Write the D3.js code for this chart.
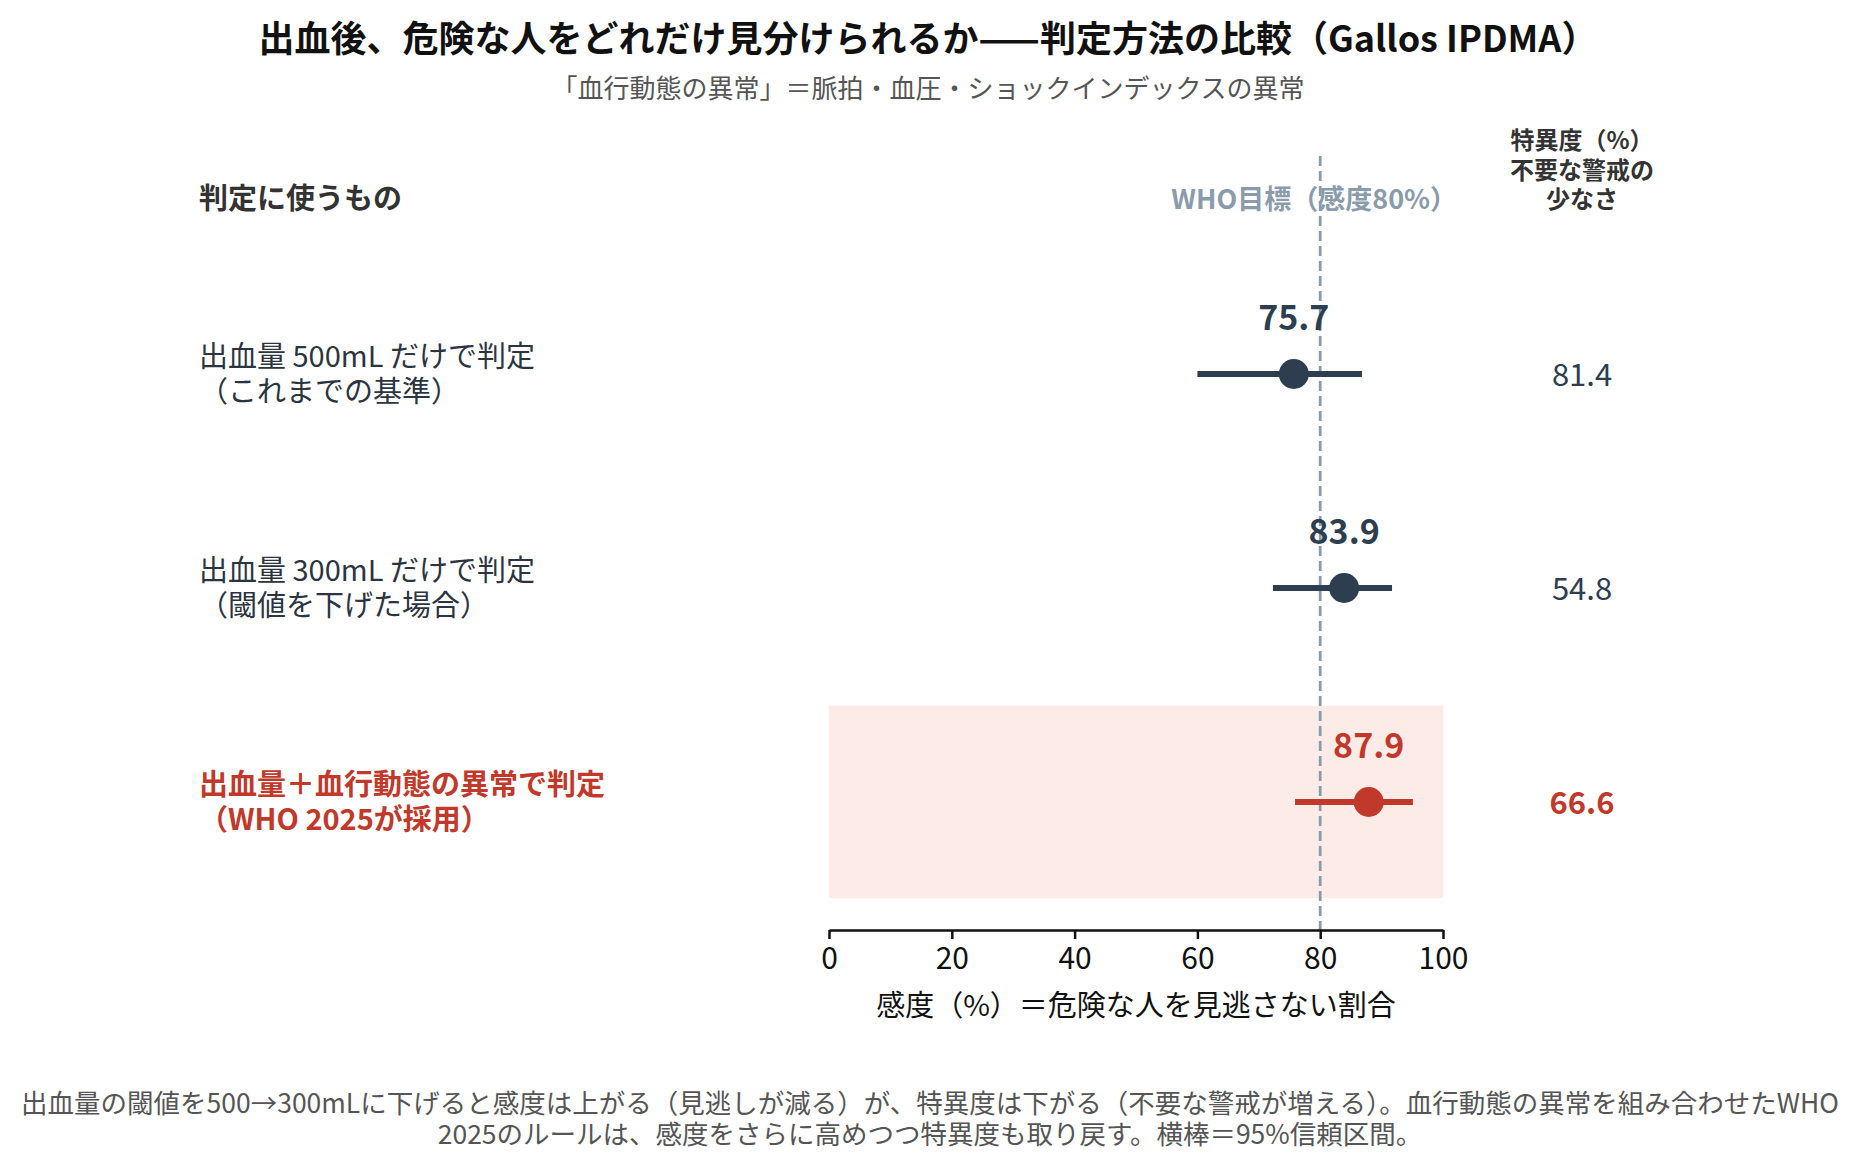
<!DOCTYPE html>
<html>
<head>
<meta charset="utf-8">
<script src="https://cdn.jsdelivr.net/npm/d3@7"></script>
<style>
  body { margin: 0; background: #fff; }
  text { font-family: "Noto Sans CJK JP", "Noto Sans", sans-serif; }
</style>
</head>
<body>
<script>
// rows, top to bottom
const labelLine1 = ["出血量 500mL だけで判定", "出血量 300mL だけで判定", "出血量＋血行動態の異常で判定"];
const labelLine2 = ["（これまでの基準）", "（閾値を下げた場合）", "（WHO 2025が採用）"];
const sensitivity = [75.7, 83.9, 87.9];
const ciLow = [60.0, 72.3, 75.9];
const ciHigh = [86.8, 91.7, 95.1];
const specificity = [81.4, 54.8, 66.6];
const xTicks = [0, 20, 40, 60, 80, 100];
const whoTarget = 80;

const W = 1856, H = 1166;
const navy = "#2c3e50", red = "#c0392b", grey = "#8a9bab";
const numFont = "\"Noto Sans\", sans-serif";

const svg = d3.create("svg").attr("width", W).attr("height", H);

const x = d3.scaleLinear().domain([0, 100]).range([829, 1443]);
const y = d3.scalePoint().domain(d3.range(labelLine1.length)).range([374, 802]);
const step = y.step();
const axisY = 930;
const specX = 1582;

// multi-line text as one element
function lines(sel, arr, x0, lh) {
  sel.selectAll("tspan")
    .data(arr)
    .join("tspan")
    .attr("x", x0)
    .attr("dy", (d, i) => (i === 0 ? 0 : lh))
    .text((d) => d);
}

// title
svg.append("text")
  .attr("x", W / 2).attr("y", 36)
  .attr("text-anchor", "middle").attr("dominant-baseline", "central")
  .attr("font-size", 36).attr("font-weight", "bold").attr("fill", "#111")
  .text("出血後、危険な人をどれだけ見分けられるか——判定方法の比較（Gallos IPDMA）");

svg.append("text")
  .attr("x", W / 2).attr("y", 86)
  .attr("text-anchor", "middle").attr("dominant-baseline", "central")
  .attr("font-size", 26).attr("fill", "#555")
  .text("「血行動態の異常」＝脈拍・血圧・ショックインデックスの異常");

// highlight band for the adopted rule
const last = labelLine1.length - 1;
svg.append("rect")
  .attr("x", x(0)).attr("width", x(100) - x(0))
  .attr("y", y(last) - step * 0.45).attr("height", step * 0.9)
  .attr("fill", "#fdebe8");

// WHO target line
svg.append("line")
  .attr("x1", x(whoTarget)).attr("x2", x(whoTarget))
  .attr("y1", 156).attr("y2", axisY)
  .attr("stroke", grey).attr("stroke-width", 2.8)
  .attr("stroke-dasharray", "10,5");

svg.append("text")
  .attr("x", x(whoTarget) - 6).attr("y", 197)
  .attr("text-anchor", "middle").attr("dominant-baseline", "central")
  .attr("font-size", 27).attr("font-weight", "bold").attr("fill", grey)
  .text("WHO目標（感度80%）");

// column headers
svg.append("text")
  .attr("x", 199).attr("y", 196)
  .attr("dominant-baseline", "central")
  .attr("font-size", 29).attr("font-weight", "bold").attr("fill", "#333")
  .text("判定に使うもの");

svg.append("text")
  .attr("y", 138)
  .attr("text-anchor", "middle").attr("dominant-baseline", "central")
  .attr("font-size", 24).attr("font-weight", "bold").attr("fill", "#333")
  .call(lines, ["特異度（%）", "不要な警戒の", "少なさ"], specX, 29.5);

// rows
const rows = svg.append("g").selectAll("g")
  .data(sensitivity.map((s, i) => i))
  .join("g");

const col = (i) => (i === last ? red : navy);

rows.append("text")
  .attr("y", (i) => y(i) - 20)
  .attr("dominant-baseline", "central")
  .attr("font-size", 29)
  .attr("font-weight", (i) => (i === last ? "bold" : "normal"))
  .attr("fill", (i) => (i === last ? red : "#2b3440"))
  .each(function (i) {
    d3.select(this).call(lines, [labelLine1[i], labelLine2[i]], 199, 35);
  });

rows.append("line")
  .attr("x1", (i) => x(ciLow[i])).attr("x2", (i) => x(ciHigh[i]))
  .attr("y1", (i) => y(i)).attr("y2", (i) => y(i))
  .attr("stroke", col).attr("stroke-width", 6);

rows.append("circle")
  .attr("cx", (i) => x(sensitivity[i])).attr("cy", (i) => y(i))
  .attr("r", 15).attr("fill", col);

rows.append("text")
  .attr("x", (i) => x(sensitivity[i])).attr("y", (i) => y(i) - 59)
  .attr("text-anchor", "middle").attr("dominant-baseline", "central")
  .attr("font-family", numFont)
  .attr("font-size", 34).attr("font-weight", "bold").attr("fill", col)
  .text((i) => sensitivity[i].toFixed(1));

rows.append("text")
  .attr("x", specX).attr("y", (i) => y(i) - 2)
  .attr("text-anchor", "middle").attr("dominant-baseline", "central")
  .attr("font-family", numFont)
  .attr("font-size", 31)
  .attr("font-weight", (i) => (i === last ? "bold" : "normal"))
  .attr("fill", col)
  .text((i) => specificity[i].toFixed(1));

// x axis
const axis = svg.append("g")
  .attr("transform", `translate(0,${axisY})`)
  .call(d3.axisBottom(x).tickValues(xTicks).tickSize(9).tickSizeOuter(0).tickPadding(9));
axis.select(".domain").attr("stroke", "#111").attr("stroke-width", 2.5);
axis.selectAll(".tick line").attr("stroke", "#111").attr("stroke-width", 2.5);
axis.selectAll(".tick text")
  .attr("font-size", 30).attr("fill", "#111")
  .attr("font-family", numFont);

svg.append("text")
  .attr("x", (x(0) + x(100)) / 2).attr("y", 1003)
  .attr("text-anchor", "middle").attr("dominant-baseline", "central")
  .attr("font-size", 29).attr("fill", "#111")
  .text("感度（%）＝危険な人を見逃さない割合");

// footnote
svg.append("text")
  .attr("y", 1101)
  .attr("text-anchor", "middle").attr("dominant-baseline", "central")
  .attr("font-size", 26.5).attr("fill", "#555")
  .call(lines, [
    "出血量の閾値を500→300mLに下げると感度は上がる（見逃しが減る）が、特異度は下がる（不要な警戒が増える）。血行動態の異常を組み合わせたWHO",
    "2025のルールは、感度をさらに高めつつ特異度も取り戻す。横棒＝95%信頼区間。",
  ], W / 2 + 2, 31);

d3.select("body").append(() => svg.node());
</script>
</body>
</html>
